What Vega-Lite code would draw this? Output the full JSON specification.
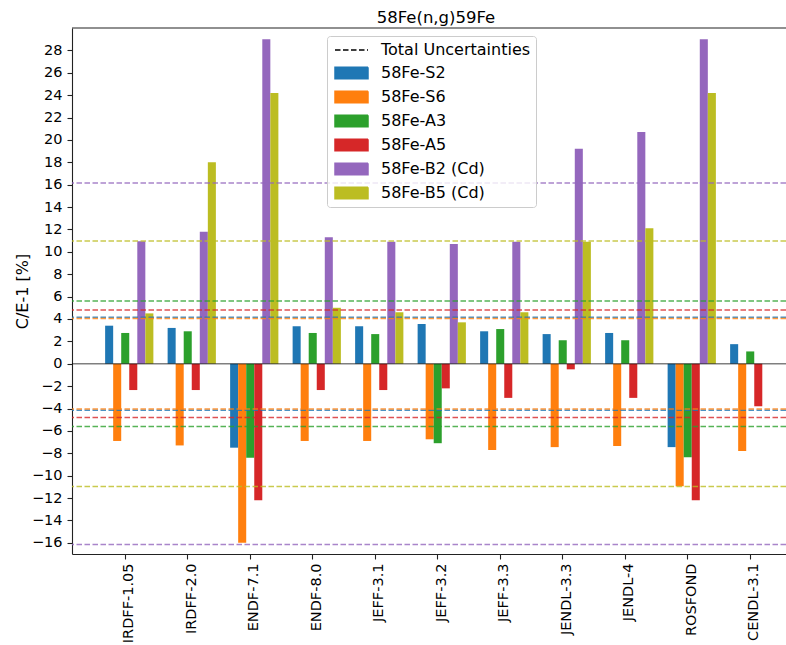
{
  "$schema": "https://vega.github.io/schema/vega-lite/v6.json",
  "width": 714,
  "height": 526,
  "autosize": {"type": "none"},
  "padding": {"left": 72, "top": 28, "right": 0, "bottom": 91},
  "title": {
    "text": "58Fe(n,g)59Fe",
    "font": "DejaVu Sans",
    "fontSize": 16.5,
    "fontWeight": "normal",
    "color": "black",
    "offset": 1,
    "dx": 7
  },
  "config": {
    "font": "DejaVu Sans",
    "view": {"stroke": null},
    "axis": {
      "labelFont": "DejaVu Sans",
      "labelFontSize": 14.5,
      "labelColor": "black",
      "labelOverlap": false,
      "domainColor": "#222222",
      "tickColor": "#222222",
      "domainWidth": 1.1,
      "tickWidth": 1.1,
      "tickSize": 5,
      "labelPadding": 4,
      "grid": false,
      "titleFont": "DejaVu Sans",
      "titleFontSize": 16,
      "titleFontWeight": "normal",
      "titleColor": "black"
    },
    "axisY": {
      "labelOverlap": false,
      "labelPadding": 5,
      "titlePadding": 1
    }
  },
  "datasets": {
    "bars": [
      {"lib": "IRDFF-1.05", "series": "58Fe-S2", "value": 3.4},
      {"lib": "IRDFF-1.05", "series": "58Fe-S6", "value": -6.9},
      {"lib": "IRDFF-1.05", "series": "58Fe-A3", "value": 2.75},
      {"lib": "IRDFF-1.05", "series": "58Fe-A5", "value": -2.35},
      {"lib": "IRDFF-1.05", "series": "58Fe-B2 (Cd)", "value": 10.95},
      {"lib": "IRDFF-1.05", "series": "58Fe-B5 (Cd)", "value": 4.5},
      {"lib": "IRDFF-2.0", "series": "58Fe-S2", "value": 3.2},
      {"lib": "IRDFF-2.0", "series": "58Fe-S6", "value": -7.3},
      {"lib": "IRDFF-2.0", "series": "58Fe-A3", "value": 2.9},
      {"lib": "IRDFF-2.0", "series": "58Fe-A5", "value": -2.35},
      {"lib": "IRDFF-2.0", "series": "58Fe-B2 (Cd)", "value": 11.8},
      {"lib": "IRDFF-2.0", "series": "58Fe-B5 (Cd)", "value": 18.0},
      {"lib": "ENDF-7.1", "series": "58Fe-S2", "value": -7.5},
      {"lib": "ENDF-7.1", "series": "58Fe-S6", "value": -16.0},
      {"lib": "ENDF-7.1", "series": "58Fe-A3", "value": -8.4},
      {"lib": "ENDF-7.1", "series": "58Fe-A5", "value": -12.2},
      {"lib": "ENDF-7.1", "series": "58Fe-B2 (Cd)", "value": 29.0},
      {"lib": "ENDF-7.1", "series": "58Fe-B5 (Cd)", "value": 24.2},
      {"lib": "ENDF-8.0", "series": "58Fe-S2", "value": 3.35},
      {"lib": "ENDF-8.0", "series": "58Fe-S6", "value": -6.9},
      {"lib": "ENDF-8.0", "series": "58Fe-A3", "value": 2.75},
      {"lib": "ENDF-8.0", "series": "58Fe-A5", "value": -2.35},
      {"lib": "ENDF-8.0", "series": "58Fe-B2 (Cd)", "value": 11.3},
      {"lib": "ENDF-8.0", "series": "58Fe-B5 (Cd)", "value": 5.0},
      {"lib": "JEFF-3.1", "series": "58Fe-S2", "value": 3.35},
      {"lib": "JEFF-3.1", "series": "58Fe-S6", "value": -6.9},
      {"lib": "JEFF-3.1", "series": "58Fe-A3", "value": 2.65},
      {"lib": "JEFF-3.1", "series": "58Fe-A5", "value": -2.35},
      {"lib": "JEFF-3.1", "series": "58Fe-B2 (Cd)", "value": 10.9},
      {"lib": "JEFF-3.1", "series": "58Fe-B5 (Cd)", "value": 4.6},
      {"lib": "JEFF-3.2", "series": "58Fe-S2", "value": 3.55},
      {"lib": "JEFF-3.2", "series": "58Fe-S6", "value": -6.75},
      {"lib": "JEFF-3.2", "series": "58Fe-A3", "value": -7.1},
      {"lib": "JEFF-3.2", "series": "58Fe-A5", "value": -2.2},
      {"lib": "JEFF-3.2", "series": "58Fe-B2 (Cd)", "value": 10.7},
      {"lib": "JEFF-3.2", "series": "58Fe-B5 (Cd)", "value": 3.7},
      {"lib": "JEFF-3.3", "series": "58Fe-S2", "value": 2.9},
      {"lib": "JEFF-3.3", "series": "58Fe-S6", "value": -7.7},
      {"lib": "JEFF-3.3", "series": "58Fe-A3", "value": 3.1},
      {"lib": "JEFF-3.3", "series": "58Fe-A5", "value": -3.05},
      {"lib": "JEFF-3.3", "series": "58Fe-B2 (Cd)", "value": 10.9},
      {"lib": "JEFF-3.3", "series": "58Fe-B5 (Cd)", "value": 4.6},
      {"lib": "JENDL-3.3", "series": "58Fe-S2", "value": 2.65},
      {"lib": "JENDL-3.3", "series": "58Fe-S6", "value": -7.45},
      {"lib": "JENDL-3.3", "series": "58Fe-A3", "value": 2.1},
      {"lib": "JENDL-3.3", "series": "58Fe-A5", "value": -0.5},
      {"lib": "JENDL-3.3", "series": "58Fe-B2 (Cd)", "value": 19.2},
      {"lib": "JENDL-3.3", "series": "58Fe-B5 (Cd)", "value": 10.9},
      {"lib": "JENDL-4", "series": "58Fe-S2", "value": 2.75},
      {"lib": "JENDL-4", "series": "58Fe-S6", "value": -7.35},
      {"lib": "JENDL-4", "series": "58Fe-A3", "value": 2.1},
      {"lib": "JENDL-4", "series": "58Fe-A5", "value": -3.05},
      {"lib": "JENDL-4", "series": "58Fe-B2 (Cd)", "value": 20.7},
      {"lib": "JENDL-4", "series": "58Fe-B5 (Cd)", "value": 12.1},
      {"lib": "ROSFOND", "series": "58Fe-S2", "value": -7.45},
      {"lib": "ROSFOND", "series": "58Fe-S6", "value": -10.95},
      {"lib": "ROSFOND", "series": "58Fe-A3", "value": -8.35},
      {"lib": "ROSFOND", "series": "58Fe-A5", "value": -12.2},
      {"lib": "ROSFOND", "series": "58Fe-B2 (Cd)", "value": 29.0},
      {"lib": "ROSFOND", "series": "58Fe-B5 (Cd)", "value": 24.2},
      {"lib": "CENDL-3.1", "series": "58Fe-S2", "value": 1.75},
      {"lib": "CENDL-3.1", "series": "58Fe-S6", "value": -7.8},
      {"lib": "CENDL-3.1", "series": "58Fe-A3", "value": 1.1},
      {"lib": "CENDL-3.1", "series": "58Fe-A5", "value": -3.8}
    ],
    "uncertainties": [
      {"series": "58Fe-S2", "value": 4.15},
      {"series": "58Fe-S2", "value": -4.15},
      {"series": "58Fe-S6", "value": 4.05},
      {"series": "58Fe-S6", "value": -4.05},
      {"series": "58Fe-A3", "value": 5.6},
      {"series": "58Fe-A3", "value": -5.6},
      {"series": "58Fe-A5", "value": 4.8},
      {"series": "58Fe-A5", "value": -4.8},
      {"series": "58Fe-B2 (Cd)", "value": 16.15},
      {"series": "58Fe-B2 (Cd)", "value": -16.15},
      {"series": "58Fe-B5 (Cd)", "value": 10.97},
      {"series": "58Fe-B5 (Cd)", "value": -10.97}
    ]
  },
  "layer": [
    {
      "data": {"name": "bars"},
      "mark": {"type": "bar"},
      "encoding": {
        "x": {
          "field": "lib",
          "type": "nominal",
          "sort": ["IRDFF-1.05", "IRDFF-2.0", "ENDF-7.1", "ENDF-8.0", "JEFF-3.1", "JEFF-3.2", "JEFF-3.3", "JENDL-3.3", "JENDL-4", "ROSFOND", "CENDL-3.1"],
          "scale": {"range": [0, 739.5], "paddingInner": 0.228, "paddingOuter": 0.53},
          "axis": {"title": null, "labelAngle": 270, "bandPosition": 0.4167, "labelPadding": 4}
        },
        "xOffset": {
          "field": "series",
          "type": "nominal",
          "scale": {
            "domain": ["58Fe-S2", "58Fe-S6", "58Fe-A3", "58Fe-A5", "58Fe-B2 (Cd)", "58Fe-B5 (Cd)"],
            "paddingInner": 0,
            "paddingOuter": 0
          }
        },
        "y": {
          "field": "value",
          "type": "quantitative",
          "scale": {"domain": [-17, 30], "nice": false, "zero": false},
          "axis": {"title": "C/E-1 [%]", "values": [-16, -14, -12, -10, -8, -6, -4, -2, 0, 2, 4, 6, 8, 10, 12, 14, 16, 18, 20, 22, 24, 26, 28]}
        },
        "color": {
          "field": "series",
          "type": "nominal",
          "scale": {
            "domain": ["Total Uncertainties", "58Fe-S2", "58Fe-S6", "58Fe-A3", "58Fe-A5", "58Fe-B2 (Cd)", "58Fe-B5 (Cd)"],
            "range": ["#000000", "#1f77b4", "#ff7f0e", "#2ca02c", "#d62728", "#9467bd", "#bcbd22"]
          },
          "legend": {
            "title": null,
            "orient": "none",
            "legendX": 255,
            "legendY": 8,
            "symbolSize": 256,
            "symbolOffset": 10.5,
            "labelFont": "DejaVu Sans",
            "labelFontSize": 16,
            "labelColor": "black",
            "labelOffset": 20.5,
            "labelLimit": 400,
            "strokeColor": "#cccccc",
            "fillColor": "rgba(255,255,255,0.8)",
            "cornerRadius": 3,
            "padding": 5,
            "rowPadding": 6,
            "encode": {
              "symbols": {
                "update": {
                  "shape": {"signal": "datum.value === 'Total Uncertainties' ? 'M-2.0625,0H2.0625' : 'M-2.0625,-0.72H2.0625V0.72H-2.0625Z'"},
                  "fill": {"signal": "datum.value === 'Total Uncertainties' ? 'transparent' : scale('color', datum.value)"},
                  "stroke": {"signal": "datum.value === 'Total Uncertainties' ? '#000000' : 'transparent'"},
                  "strokeDash": {"signal": "datum.value === 'Total Uncertainties' ? [5.5, 2.5] : [1, 0]"},
                  "strokeWidth": {"value": 1.5},
                  "opacity": {"value": 1},
                  "fillOpacity": {"value": 1}
                }
              }
            }
          }
        }
      }
    },
    {
      "data": {"name": "uncertainties"},
      "mark": {"type": "rule", "strokeDash": [5.5, 2.5], "strokeWidth": 1.5, "opacity": 0.8},
      "encoding": {
        "y": {"field": "value", "type": "quantitative", "axis": {"title": "C/E-1 [%]", "values": [-16, -14, -12, -10, -8, -6, -4, -2, 0, 2, 4, 6, 8, 10, 12, 14, 16, 18, 20, 22, 24, 26, 28]}},
        "color": {"field": "series", "type": "nominal"}
      }
    },
    {
      "data": {"values": [{"level": 0}]},
      "mark": {"type": "rule", "color": "#000000", "opacity": 0.5, "strokeWidth": 1.5},
      "encoding": {"y": {"field": "level", "type": "quantitative", "axis": {"title": "C/E-1 [%]", "values": [-16, -14, -12, -10, -8, -6, -4, -2, 0, 2, 4, 6, 8, 10, 12, 14, 16, 18, 20, 22, 24, 26, 28]}}}
    },
    {
      "data": {"values": [{"level": 30}]},
      "mark": {"type": "rule", "color": "#222222", "strokeWidth": 1.1},
      "encoding": {"y": {"field": "level", "type": "quantitative", "axis": {"title": "C/E-1 [%]", "values": [-16, -14, -12, -10, -8, -6, -4, -2, 0, 2, 4, 6, 8, 10, 12, 14, 16, 18, 20, 22, 24, 26, 28]}}}
    }
  ]
}
